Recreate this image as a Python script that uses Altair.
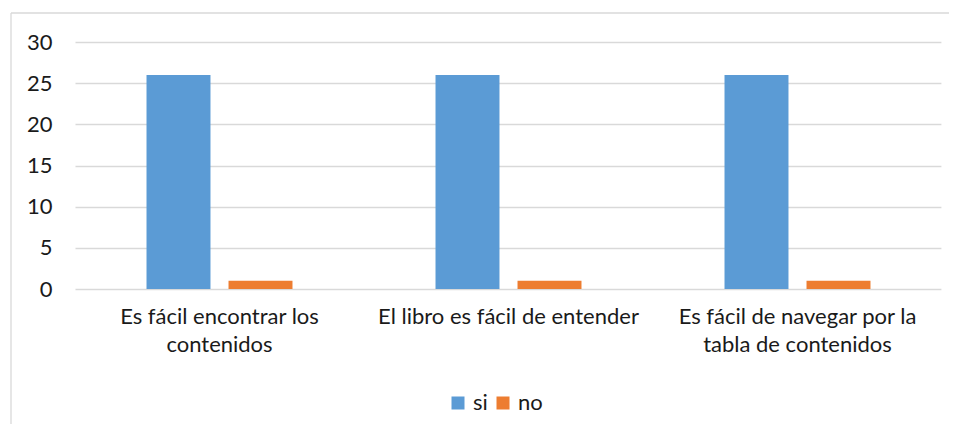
import altair as alt
import pandas as pd

categories = [
    "Es fácil encontrar los contenidos",
    "El libro es fácil de entender",
    "Es fácil de navegar por la tabla de contenidos",
]
label_lines = [
    ["Es fácil encontrar los", "contenidos"],
    ["El libro es fácil de entender"],
    ["Es fácil de navegar por la", "tabla de contenidos"],
]
series = ["si", "no"]
si_values = [26, 26, 26]
no_values = [1, 1, 1]
colors = ["#5B9BD5", "#ED7D31"]
y_ticks = [0, 5, 10, 15, 20, 25, 30]

rows = []
for c, s, n in zip(categories, si_values, no_values):
    rows.append({"categoria": c, "serie": "si", "valor": s})
    rows.append({"categoria": c, "serie": "no", "valor": n})
df = pd.DataFrame(rows)

expr = "datum.value"
for cat, lines in reversed(list(zip(categories, label_lines))):
    arr = "[" + ",".join("'" + l + "'" for l in lines) + "]"
    expr = f"datum.value == '{cat}' ? {arr} : ({expr})"

FONT = "Lato"
TXT = "#1a1a1a"
FS = 22

bars = alt.Chart(df).mark_bar().encode(
    x=alt.X(
        "categoria:N",
        sort=categories,
        scale=alt.Scale(paddingInner=0, paddingOuter=0),
        axis=alt.Axis(
            title=None, labelAngle=0, domain=False, ticks=False,
            labelExpr=expr, labelFontSize=FS, labelFont=FONT,
            labelColor=TXT, labelPadding=17, labelLineHeight=28,
            labelBaseline="top", grid=False, labelLimit=0,
        ),
    ),
    xOffset=alt.XOffset(
        "serie:N", sort=series,
        scale=alt.Scale(paddingInner=0.22, paddingOuter=0.872),
    ),
    y=alt.Y(
        "valor:Q",
        scale=alt.Scale(domain=[0, 30], nice=False),
        axis=alt.Axis(
            title=None, values=y_ticks, domain=False, ticks=False,
            labelFontSize=FS, labelFont=FONT, labelColor=TXT,
            labelPadding=23, gridColor="#d9d9d9", gridWidth=1.3,
        ),
    ),
    color=alt.Color(
        "serie:N",
        scale=alt.Scale(domain=series, range=colors),
        legend=alt.Legend(
            title=None, orient="none", legendX=372, legendY=350,
            direction="horizontal", symbolType="square", symbolSize=169,
            symbolStrokeWidth=0, labelFontSize=FS, labelFont=FONT,
            labelColor=TXT, labelOffset=4, columnPadding=4,
        ),
    ),
)

frame = alt.Data(values=[{}])
cover = alt.Chart(frame).mark_rect(fill="white", strokeWidth=0).encode(
    x=alt.value(866.4), x2=alt.value(900), y=alt.value(-27), y2=alt.value(260),
)
top_line = alt.Chart(frame).mark_rule(color="#d9d9d9", strokeWidth=1.3).encode(
    x=alt.value(-64), x2=alt.value(900), y=alt.value(-29),
)
left_line = alt.Chart(frame).mark_rule(color="#d9d9d9", strokeWidth=1.3).encode(
    x=alt.value(-64), y=alt.value(-29), y2=alt.value(400),
)

chart = alt.layer(bars, cover, top_line, left_line).properties(
    width=867, height=247,
    autosize=alt.AutoSizeParams(type="none"),
    padding={"left": 67, "top": 34, "right": 7, "bottom": 135},
    background="white",
).configure_view(stroke="transparent", strokeWidth=0)

chart.save("out.html", embed_options={"renderer": "svg", "actions": False})
